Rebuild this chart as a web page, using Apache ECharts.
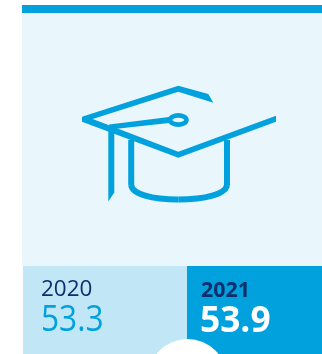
<!DOCTYPE html>
<html>
<head>
<meta charset="utf-8">
<style>html,body{margin:0;padding:0;background:#fff}#c{width:322px;height:354px}</style>
<script src="https://cdn.jsdelivr.net/npm/echarts@6/dist/echarts.min.js"></script>
</head>
<body>
<div id="c"></div>
<script>
const years = ['2020', '2021'];
const values = ['53.3', '53.9'];

const BLUE = '#00a1dc';
const PALE = '#e9f7fd';
const LIGHT = '#c1e6f6';
const NAVY = '#0d2f6e';

const chart = echarts.init(document.getElementById('c'), null, { renderer: 'canvas' });

const icon = { fill: BLUE };
const capStroke = { fill: 'none', stroke: BLUE, lineWidth: 6 };

chart.setOption({
  animation: false,
  backgroundColor: '#ffffff',
  graphic: [
    // panels
    { type: 'rect', shape: { x: 22, y: 5, width: 300, height: 8 }, style: { fill: BLUE } },
    { type: 'rect', shape: { x: 22, y: 13, width: 300, height: 253 }, style: { fill: PALE } },
    { type: 'rect', shape: { x: 23, y: 266, width: 164, height: 88 }, style: { fill: LIGHT } },
    { type: 'rect', shape: { x: 187, y: 266, width: 135, height: 88 }, style: { fill: BLUE } },
    { type: 'circle', shape: { cx: 187.5, cy: 378.5, r: 39.5 }, style: { fill: '#ffffff' } },

    // mortarboard
    { type: 'polygon', shape: { points: [
      [178.3, 85.7], [82, 116.7], [82, 121.7], [178.3, 157.7], [276, 121.7], [276, 115.7],
      [178.3, 151.7], [92.7, 119], [178.3, 91.7], [213.3, 102.7], [208.3, 94]
    ] }, style: icon },
    // cord and button
    { type: 'polygon', shape: { points: [[109, 124.5], [110, 129.5], [169, 123], [169, 117]] }, style: icon },
    { type: 'ellipse', shape: { cx: 178.3, cy: 120, rx: 8.2, ry: 4.6 },
      style: { fill: PALE, stroke: BLUE, lineWidth: 4.6 } },
    // tassel
    { type: 'polygon', shape: { points: [[108.3, 129], [114.3, 131], [114.3, 192.5], [108.3, 201.5]] }, style: icon },
    // cap body
    { type: 'polyline', shape: { points: [[131.2, 140], [131.2, 185]] }, style: capStroke },
    { type: 'polyline', shape: { points: [[227, 140], [227, 185]] }, style: capStroke },
    { type: 'bezierCurve', shape: { x1: 131.2, y1: 185, cpx1: 132, cpy1: 194, cpx2: 152, cpy2: 199.6, x2: 178.3, y2: 199.6 }, style: capStroke },
    { type: 'bezierCurve', shape: { x1: 178.3, y1: 199.6, cpx1: 205, cpy1: 199.6, cpx2: 226, cpy2: 194, x2: 227, y2: 185 }, style: capStroke },

    // year and value captions
    { type: 'text', x: 41, y: 290, style: { text: years[0], font: '21px "Open Sans"', fill: NAVY, verticalAlign: 'middle' }, scaleX: 1.07 },
    { type: 'text', x: 41, y: 321, style: { text: values[0], font: '36px "Open Sans"', fill: BLUE, verticalAlign: 'middle' }, scaleX: 0.88 },
    { type: 'text', x: 201, y: 291, style: { text: years[1], font: 'bold 21px "Open Sans"', fill: NAVY, verticalAlign: 'middle' }, scaleX: 1.02 },
    { type: 'text', x: 200, y: 322, style: { text: values[1], font: 'bold 36px "Open Sans"', fill: '#ffffff', verticalAlign: 'middle' }, scaleX: 0.98 }
  ]
});
</script>
</body>
</html>
